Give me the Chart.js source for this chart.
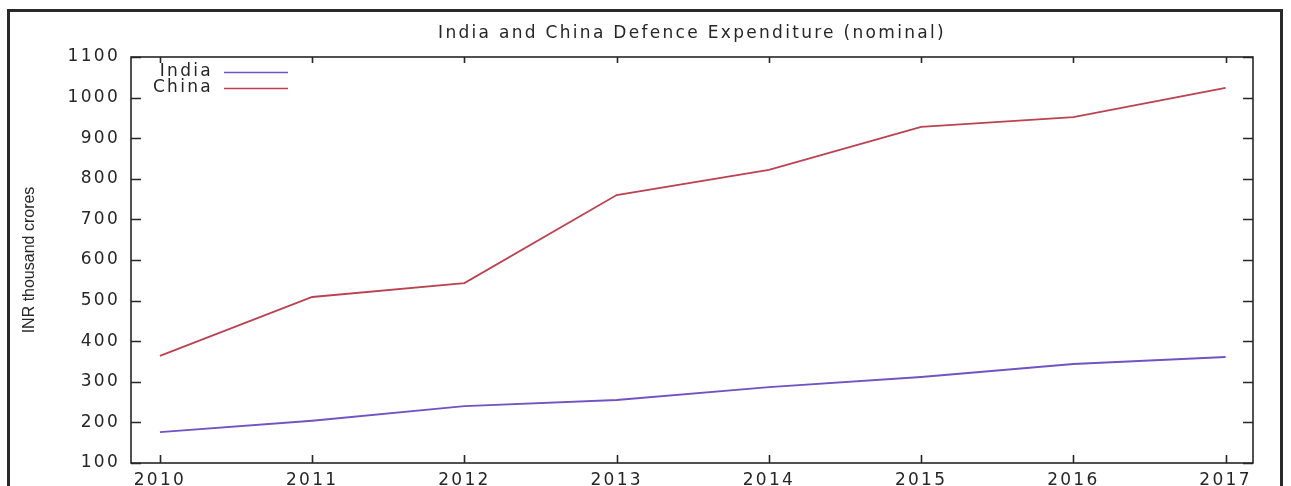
<!DOCTYPE html>
<html lang="en">
<head>
  <meta charset="UTF-8">
  <title>India and China Defence Expenditure (nominal)</title>
  <script src="https://cdn.jsdelivr.net/npm/chart.js"></script>
  <style>
    html, body { margin: 0; padding: 0; background: #fff; overflow: hidden; }
    #wrap { position: relative; width: 1291px; height: 486px; }
    #frame { position: absolute; left: 7px; top: 9px; width: 1276px; height: 500px; border: 3px solid #2a2a2a; box-sizing: border-box; }
    canvas { position: absolute; left: 0; top: 0; }
  </style>
</head>
<body>
  <div id="wrap">
    <div id="frame"></div>
    <canvas id="defChart" width="1291" height="486"></canvas>
  </div>

  <script>
    // data (INR thousand crores)
    const years = [2010, 2011, 2012, 2013, 2014, 2015, 2016, 2017];
    const india = [176, 204, 240, 255, 287, 312, 344, 361];
    const china = [364, 509, 543, 760, 822, 928, 952, 1024];
    const yTicks = [100, 200, 300, 400, 500, 600, 700, 800, 900, 1000, 1100];
    const chartTitle = 'India and China Defence Expenditure (nominal)';
    const yTitle = 'INR thousand crores';

    const FONT = "'DejaVu Sans', Verdana, sans-serif";
    const INK = '#262626';
    const SPACING = '2.3px'; // the original text is drawn quite wide

    // wide text everywhere chart.js measures or draws
    const spacingPlugin = {
      id: 'spacing',
      beforeUpdate(chart) { chart.ctx.letterSpacing = SPACING; },
      beforeDraw(chart) { chart.ctx.letterSpacing = SPACING; }
    };

    // gnuplot style frame: border all round, ticks pointing inward, mirrored
    const framePlugin = {
      id: 'frame',
      afterDatasetsDraw(chart) {
        const { ctx, chartArea: a, scales } = chart;
        ctx.save();
        ctx.strokeStyle = INK;
        ctx.lineWidth = 1.6;
        ctx.strokeRect(a.left, a.top, a.right - a.left, a.bottom - a.top);
        ctx.beginPath();
        years.forEach(v => {
          const x = Math.round(scales.x.getPixelForValue(v)) + 0.5;
          ctx.moveTo(x, a.bottom); ctx.lineTo(x, a.bottom - 8);
          ctx.moveTo(x, a.top); ctx.lineTo(x, a.top + 6);
        });
        yTicks.forEach(v => {
          const y = Math.round(scales.y.getPixelForValue(v)) + 0.5;
          ctx.moveTo(a.left, y); ctx.lineTo(a.left + 10, y);
          ctx.moveTo(a.right, y); ctx.lineTo(a.right - 10, y);
        });
        ctx.stroke();

        // title over the plot
        ctx.letterSpacing = SPACING;
        ctx.fillStyle = INK;
        ctx.font = '17px ' + FONT;
        ctx.textAlign = 'center';
        ctx.textBaseline = 'middle';
        ctx.fillText(chartTitle, (a.left + a.right) / 2, 34);

        // key, top left inside the plot
        ctx.textAlign = 'right';
        chart.data.datasets.forEach((ds, i) => {
          const y = a.top + 15 + i * 16;
          ctx.fillStyle = INK;
          ctx.fillText(ds.label, a.left + 82, y);
          ctx.strokeStyle = ds.borderColor;
          ctx.beginPath();
          ctx.moveTo(a.left + 93, y + 0.5);
          ctx.lineTo(a.left + 157, y + 0.5);
          ctx.stroke();
        });

        // y axis title, narrow font
        ctx.letterSpacing = '0px';
        ctx.font = "16px 'Liberation Sans Narrow', 'Arial Narrow', sans-serif";
        ctx.textAlign = 'center';
        ctx.translate(30, (a.top + a.bottom) / 2);
        ctx.rotate(-Math.PI / 2);
        ctx.fillText(yTitle, 0, 0);
        ctx.restore();
      }
    };

    new Chart(document.getElementById('defChart'), {
      type: 'line',
      data: {
        datasets: [
          { label: 'India', data: years.map((y, i) => ({ x: y, y: india[i] })), borderColor: '#7352c4' },
          { label: 'China', data: years.map((y, i) => ({ x: y, y: china[i] })), borderColor: '#bb4250' }
        ]
      },
      options: {
        responsive: false,
        animation: false,
        layout: { padding: { left: 0, right: 38, top: 57, bottom: 0 } },
        elements: {
          line: { borderWidth: 1.9, tension: 0, fill: false },
          point: { radius: 0 }
        },
        plugins: {
          legend: { display: false },
          tooltip: { enabled: false },
          title: { display: false }
        },
        scales: {
          x: {
            type: 'linear',
            min: 2009.81,
            max: 2017.18,
            afterBuildTicks: s => { s.ticks = years.map(v => ({ value: v })); },
            afterFit: s => { s.height = 23; },
            grid: { display: false },
            border: { display: false },
            ticks: {
              color: INK,
              padding: -1,
              font: { family: FONT, size: 17 },
              callback: v => String(v),
              maxRotation: 0
            }
          },
          y: {
            min: 100,
            max: 1100,
            afterBuildTicks: s => { s.ticks = yTicks.map(v => ({ value: v })); },
            afterFit: s => { s.width = 131; },
            grid: { display: false },
            border: { display: false },
            ticks: {
              color: INK,
              padding: 3,
              font: { family: FONT, size: 17 },
              callback: v => String(v)
            }
          }
        }
      },
      plugins: [spacingPlugin, framePlugin]
    });
  </script>
</body>
</html>
